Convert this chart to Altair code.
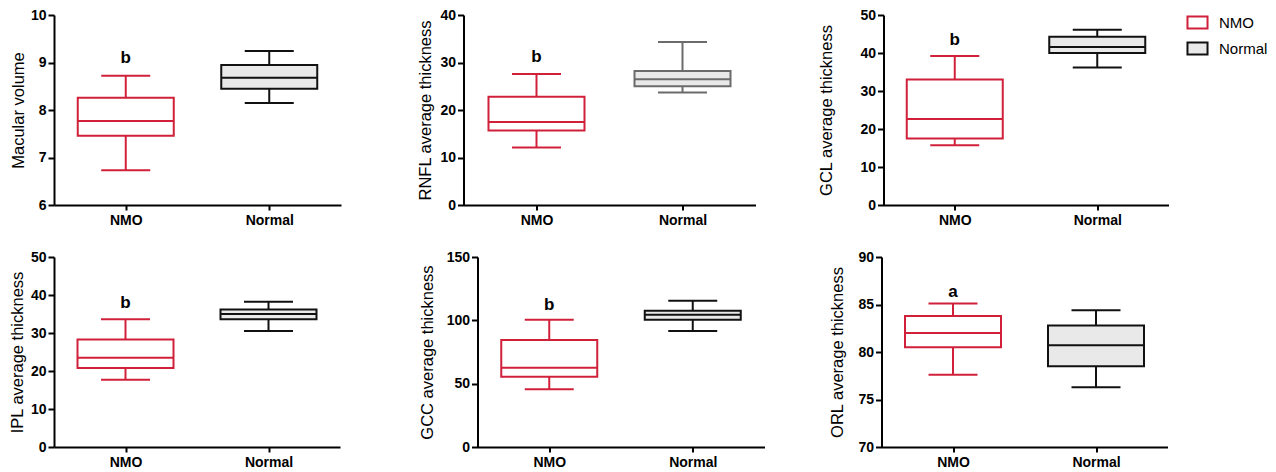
import altair as alt
import pandas as pd

groups = ["NMO", "Normal"]
titles = ["Macular volume", "RNFL average thickness", "GCL average thickness",
          "IPL average thickness", "GCC average thickness", "ORL average thickness"]
mins = [[6.73, 8.15], [12.1, 23.7], [15.7, 36.2], [17.7, 30.5], [45.5, 91.5], [77.6, 76.3]]
q1s = [[7.46, 8.45], [15.7, 25.0], [17.5, 40.0], [20.8, 33.6], [55.5, 100.5], [80.5, 78.5]]
medians = [[7.77, 8.68], [17.5, 26.5], [22.6, 41.6], [23.5, 35.0], [62.5, 104.5], [82.0, 80.7]]
q3s = [[8.26, 8.95], [22.8, 28.2], [33.0, 44.3], [28.3, 36.2], [84.5, 107.5], [83.8, 82.8]]
maxs = [[8.72, 9.24], [27.6, 34.3], [39.2, 46.1], [33.6, 38.2], [100.5, 115.5], [85.1, 84.4]]
letters = ["b", "b", "b", "b", "b", "a"]
letter_pos = [9.1, 31.2, 43.4, 37.9, 112.0, 86.3]
y_domains = [[6, 10], [0, 40], [0, 50], [0, 50], [0, 150], [70, 90]]
y_ticks = [[6, 7, 8, 9, 10], [0, 10, 20, 30, 40], [0, 10, 20, 30, 40, 50],
           [0, 10, 20, 30, 40, 50], [0, 50, 100, 150], [70, 75, 80, 85, 90]]

RED = "#d0203a"
BLACK = "#111111"
GREY = "#6b6b6b"
NORMAL_FILL = "#e9e9e9"
FONT = "Liberation Sans"
H = 190
TITLE_SIZE = 16.5


def panel(i, width, ext, tpad, normal_color, with_legend=False):
    df = pd.DataFrame({"group": groups, "lo": mins[i], "q1": q1s[i], "med": medians[i],
                       "q3": q3s[i], "hi": maxs[i]})
    ann = pd.DataFrame({"group": ["NMO"], "pos": [letter_pos[i]], "txt": [letters[i]]})
    xenc = alt.X("group:N", scale=alt.Scale(type="point", padding=0.5, domain=groups),
                 axis=alt.Axis(title=None, labelAngle=0, domainWidth=2, tickWidth=2, tickSize=5,
                               labelPadding=3, labelFontSize=14, labelFontWeight="bold",
                               labelFont=FONT, labelColor="black", domainColor="black",
                               tickColor="black", grid=False))
    yscale = alt.Scale(domain=y_domains[i], nice=False, zero=False)
    yaxis = alt.Axis(values=y_ticks[i], title=titles[i], minExtent=ext, maxExtent=ext,
                     titlePadding=tpad, titleFont=FONT, titleFontSize=TITLE_SIZE,
                     titleFontWeight="normal", titleColor="black", labelFont=FONT,
                     labelFontSize=14, labelFontWeight="bold", labelColor="black",
                     labelPadding=2, domainWidth=2, domainColor="black",
                     tickWidth=2, tickColor="black", tickSize=6, grid=False)

    def Y(f):
        return alt.Y(f + ":Q", scale=yscale, axis=yaxis)

    col = alt.condition(alt.datum.group == "NMO", alt.value(RED), alt.value(normal_color))
    fillc = alt.condition(alt.datum.group == "NMO", alt.value("white"), alt.value(NORMAL_FILL))
    base = alt.Chart(df)
    lo = base.mark_rule(strokeWidth=2).encode(x=xenc, y=Y("lo"), y2="q1:Q", stroke=col)
    hi = base.mark_rule(strokeWidth=2).encode(x=xenc, y=Y("q3"), y2="hi:Q", stroke=col)
    if with_legend:
        leg = alt.Legend(title=None)
        stroke = alt.Stroke("group:N", scale=alt.Scale(domain=groups, range=[RED, normal_color]), legend=leg)
        fill = alt.Fill("group:N", scale=alt.Scale(domain=groups, range=["white", NORMAL_FILL]), legend=leg)
    else:
        stroke, fill = col, fillc
    box = base.mark_bar(size=96, strokeWidth=2, opacity=1).encode(
        x=xenc, y=Y("q1"), y2="q3:Q", stroke=stroke, fill=fill)
    med = base.mark_tick(size=96, thickness=2, opacity=1).encode(x=xenc, y=Y("med"), color=col)
    cap_lo = base.mark_tick(size=49, thickness=2, opacity=1).encode(x=xenc, y=Y("lo"), color=col)
    cap_hi = base.mark_tick(size=49, thickness=2, opacity=1).encode(x=xenc, y=Y("hi"), color=col)
    txt = alt.Chart(ann).mark_text(fontSize=17, fontWeight="bold", font=FONT, color="black",
                                   baseline="middle").encode(x=xenc, y=Y("pos"), text="txt:N")
    return alt.layer(lo, hi, box, med, cap_lo, cap_hi, txt).properties(width=width, height=H)


p1 = panel(0, 287, 24, 3.5, BLACK)
p2 = panel(1, 292, 24, 6, GREY)
p3 = panel(2, 285, 24, 25, BLACK, with_legend=True)
p4 = panel(3, 286, 24, 4.5, BLACK)
p5 = panel(4, 287, 32, 10, BLACK)
p6 = panel(5, 286, 24, 12, BLACK)

row1 = alt.hconcat(alt.hconcat(p1, p2, spacing=76.5), p3, spacing=62.5)
row2 = alt.hconcat(alt.hconcat(p4, p5, spacing=79.5), p6, spacing=64.5)

chart = alt.vconcat(row1, row2, spacing=23).configure(
    padding={"left": 1, "top": 0, "right": 0, "bottom": 0}
).configure_view(stroke=None).configure_axis(
    titleFont=FONT, titleFontSize=TITLE_SIZE, titleFontWeight="normal", titleColor="black"
).configure_legend(
    orient="right", offset=21, labelFont=FONT, labelFontSize=15, labelColor="black",
    symbolType="M-1.67,-1H1.67V1H-1.67Z", symbolSize=144, symbolStrokeWidth=2,
    rowPadding=5, labelOffset=14
)

chart.save("out.html", embed_options={"renderer": "svg", "actions": False})
